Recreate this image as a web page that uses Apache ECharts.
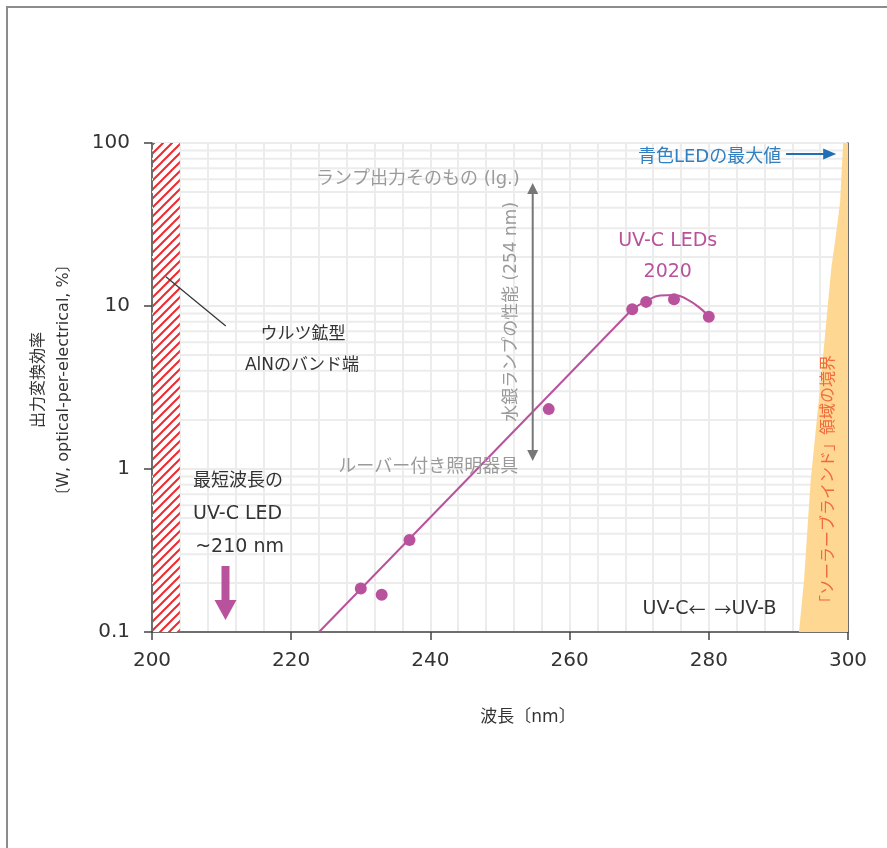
<!DOCTYPE html>
<html><head><meta charset="utf-8">
<script src="https://cdn.jsdelivr.net/npm/echarts@6/dist/echarts.min.js"></script>
<style>html,body{margin:0;padding:0;background:#fff}#c{width:887px;height:848px}</style>
</head><body><div id="c"></div>
<script>
// ---------- data ----------
const xTicks = [200, 220, 240, 260, 280, 300];
const yTicks = [0.1, 1, 10, 100];
const yMinorGrid = [0.2,0.3,0.4,0.5,0.6,0.7,0.8,0.9,2,3,4,5,6,7,8,9,20,30,40,50,60,70,80,90];
const ledWavelength = [230, 233, 237, 257, 269, 271, 275, 280];
const ledEfficiency = [0.185, 0.169, 0.367, 2.33, 9.55, 10.6, 11.0, 8.6];
const fitLineX = [224, 269];
const fitLineY = [0.1, 9.55];
const fitCurveX = [269, 271, 273, 275, 277, 279, 280];
const fitCurveY = [9.55, 10.7, 11.6, 11.7, 10.9, 9.5, 8.6];
const solarBlindX = [292.96, 293.68, 294.64, 296.1, 296.7, 297.6, 298.3, 298.87, 299.3, 300, 300];
const solarBlindY = [0.1, 0.208, 0.856, 3.52, 6.64, 17.1, 28, 43.6, 100, 100, 0.1];
const alnEdgeRange = [200, 204];

// annotation anchors (data coordinates: nm, %)
const lampLabelAt = [238.2, 60];
const lampArrow = { x: 254.7, top: 56.8, bottom: 1.12 };
const mercuryLabelAt = [251.6, 9.2];
const louverLabelAt = [239.7, 1.03];
const wurtziteAt = [221.7, 6.64];
const alnAt = [221.55, 4.29];
const leaderFrom = [202.0, 15.1];
const leaderTo = [210.6, 7.54];
const shortestAt = [[205.9, 0.844], [205.9, 0.53], [206.2, 0.332]];
const shortestArrow = { x: 210.56, top: 0.254, head: 0.157, tip: 0.1186 };
const uvcLedsAt = [[274.1, 25.0], [274.1, 16.2]];
const blueLabelRight = [290.4, 82];
const blueArrow = { from: 291.1, to: 298.3, y: 85.6 };
const uvBoundaryAt = [280.1, 0.138];
const solarLabelAt = [297.3, 0.82];

// ---------- chart ----------
const FONT = "'DejaVu Sans', 'Noto Sans CJK JP', sans-serif";
const CJK = "'Noto Sans CJK JP', sans-serif";
const MAGENTA = '#b9529c';
const GRID = '#ececec';
const AXIS = '#444';

function hatchPattern() {
  const s = 9, c = document.createElement('canvas');
  c.width = s; c.height = s;
  const g = c.getContext('2d');
  g.fillStyle = '#fff'; g.fillRect(0, 0, s, s);
  g.strokeStyle = '#ec2a2f'; g.lineWidth = 2;
  g.beginPath();
  g.moveTo(-1, s + 1); g.lineTo(s + 1, -1);
  g.moveTo(-1, 1); g.lineTo(1, -1);
  g.moveTo(s - 1, s + 1); g.lineTo(s + 1, s - 1);
  g.stroke();
  return c;
}
const hatch = hatchPattern();

const chart = echarts.init(document.getElementById('c'), null, { renderer: 'canvas' });

chart.setOption({
  animation: false,
  backgroundColor: '#fff',
  grid: { left: 152, right: 39, top: 143, bottom: 216, containLabel: false, outerBoundsMode: 'none' },
  xAxis: {
    type: 'value', min: xTicks[0], max: xTicks[xTicks.length - 1], interval: 20,
    axisLine: { onZero: false, lineStyle: { color: AXIS, width: 1.5 } },
    axisTick: { show: true, length: 8, lineStyle: { color: AXIS, width: 1.5 } },
    axisLabel: { margin: 19, fontSize: 20, color: '#333', fontFamily: FONT },
    splitLine: { show: true, lineStyle: { color: GRID, width: 2 } },
    minorTick: { show: false, splitNumber: 5 },
    minorSplitLine: { show: true, lineStyle: { color: GRID, width: 2 } }
  },
  yAxis: [{
    type: 'log', logBase: 10, min: yTicks[0], max: yTicks[yTicks.length - 1],
    axisLine: { show: true, onZero: false, lineStyle: { color: AXIS, width: 1.5 } },
    axisTick: { show: true, length: 8, lineStyle: { color: AXIS, width: 1.5 } },
    axisLabel: { margin: 22, fontSize: 20, color: '#333', fontFamily: FONT,
      formatter: v => String(+v.toPrecision(3)) },
    splitLine: { show: true, lineStyle: { color: GRID, width: 2 } }
  }, {
    type: 'log', logBase: 10, min: yTicks[0], max: yTicks[yTicks.length - 1], position: 'right',
    axisLine: { show: true, onZero: false, lineStyle: { color: AXIS, width: 1.5 } },
    axisTick: { show: false }, axisLabel: { show: false }, splitLine: { show: false }
  }],
  series: [
    {
      // minor log gridlines
      type: 'custom', z: 1, silent: true,
      data: yMinorGrid.map(v => [xTicks[0], v]),
      renderItem: (params, api) => {
        const v = api.value(1);
        const a = api.coord([xTicks[0], v]), b = api.coord([xTicks[xTicks.length - 1], v]);
        return { type: 'line', shape: { x1: a[0], y1: a[1], x2: b[0], y2: b[1] },
          style: { stroke: GRID, lineWidth: 2 } };
      }
    },
    {
      type: 'custom', z: 2, silent: true,
      data: [[solarBlindX[0], solarBlindY[0]]],
      renderItem: (params, api) => ({
        type: 'polygon',
        shape: { points: solarBlindX.map((x, i) => api.coord([x, solarBlindY[i]])) },
        style: { fill: '#fed892' }
      })
    },
    {
      type: 'custom', z: 3, silent: true,
      data: [[alnEdgeRange[0], yTicks[0]]],
      renderItem: (params, api) => {
        const a = api.coord([alnEdgeRange[0], yTicks[yTicks.length - 1]]);
        const b = api.coord([alnEdgeRange[1], yTicks[0]]);
        return { type: 'rect', shape: { x: a[0] + 1, y: a[1], width: b[0] - a[0] - 1, height: b[1] - a[1] },
          style: { fill: { image: hatch, repeat: 'repeat' } } };
      }
    },
    {
      type: 'line', z: 4, silent: true, showSymbol: false, symbol: 'none',
      data: fitLineX.map((x, i) => [x, fitLineY[i]]),
      lineStyle: { color: MAGENTA, width: 2 }
    },
    {
      type: 'line', z: 4, silent: true, showSymbol: false, symbol: 'none', smooth: 0.5,
      data: fitCurveX.map((x, i) => [x, fitCurveY[i]]),
      lineStyle: { color: MAGENTA, width: 2 }
    },
    {
      type: 'scatter', z: 5, symbolSize: 12,
      data: ledWavelength.map((x, i) => [x, ledEfficiency[i]]),
      itemStyle: { color: MAGENTA, opacity: 1 }
    }
  ]
});

// ---------- annotations ----------
const P = (x, y) => chart.convertToPixel({ xAxisIndex: 0, yAxisIndex: 0 }, [x, y]);
function txt(pos, text, o) {
  return {
    type: 'text', x: pos[0], y: pos[1], rotation: o.rot || 0, z: 100, silent: true,
    style: { text, fill: o.color, fontSize: o.size, fontFamily: FONT,
      align: o.align || 'center', verticalAlign: 'middle', lineHeight: o.lh, rich: o.rich }
  };
}
function line(a, b, color, w) {
  return { type: 'line', z: 100, silent: true, shape: { x1: a[0], y1: a[1], x2: b[0], y2: b[1] },
    style: { stroke: color, lineWidth: w } };
}
function poly(pts, color) {
  return { type: 'polygon', z: 100, silent: true, shape: { points: pts }, style: { fill: color } };
}

const g = [];
// outer frame
g.push({ type: 'rect', z: 0, silent: true, shape: { x: 7, y: 7, width: 1000, height: 1000 },
  style: { fill: 'none', stroke: '#8c8c8c', lineWidth: 2 } });

// lamp
g.push(txt(P(...lampLabelAt), 'ランプ出力そのもの (lg.)', { color: '#9a9a9a', size: 18 }));
{
  const t = P(lampArrow.x, lampArrow.top), b = P(lampArrow.x, lampArrow.bottom);
  g.push(line([t[0], t[1] + 8], [b[0], b[1] - 8], '#777', 2));
  g.push(poly([[t[0], t[1]], [t[0] - 5.5, t[1] + 11], [t[0] + 5.5, t[1] + 11]], '#777'));
  g.push(poly([[b[0], b[1]], [b[0] - 5.5, b[1] - 11], [b[0] + 5.5, b[1] - 11]], '#777'));
}
g.push(txt(P(...mercuryLabelAt), '水銀ランプの性能 (254 nm)', { color: '#9a9a9a', size: 17, rot: Math.PI / 2 }));
g.push(txt(P(...louverLabelAt), 'ルーバー付き照明器具', { color: '#9a9a9a', size: 18 }));

// AlN
g.push(txt(P(...wurtziteAt), 'ウルツ鉱型', { color: '#333', size: 17 }));
g.push(txt(P(...alnAt), 'AlNのバンド端', { color: '#333', size: 17 }));
g.push(line(P(...leaderFrom), P(...leaderTo), '#333', 1.2));

// shortest LED
g.push(txt(P(...shortestAt[0]), '最短波長の', { color: '#333', size: 18, align: 'left' }));
g.push(txt(P(...shortestAt[1]), 'UV-C LED', { color: '#333', size: 19, align: 'left' }));
g.push(txt(P(...shortestAt[2]), '~210 nm', { color: '#333', size: 19, align: 'left' }));
{
  const t = P(shortestArrow.x, shortestArrow.top), h = P(shortestArrow.x, shortestArrow.head),
        p = P(shortestArrow.x, shortestArrow.tip);
  g.push(poly([[t[0] - 4, t[1]], [t[0] + 4, t[1]], [h[0] + 4, h[1]], [h[0] + 11, h[1]], [p[0], p[1]],
    [h[0] - 11, h[1]], [h[0] - 4, h[1]]], MAGENTA));
}

// UV-C LEDs 2020
g.push(txt(P(...uvcLedsAt[0]), 'UV-C LEDs', { color: MAGENTA, size: 19 }));
g.push(txt(P(...uvcLedsAt[1]), '2020', { color: MAGENTA, size: 19 }));

// blue LED
g.push(txt(P(...blueLabelRight), '青色LEDの最大値', { color: '#2f7fc1', size: 18, align: 'right' }));
{
  const a = P(blueArrow.from, blueArrow.y), b = P(blueArrow.to, blueArrow.y);
  g.push(line(a, [b[0] - 10, b[1]], '#1f6fb5', 2));
  g.push(poly([[b[0], b[1]], [b[0] - 13, b[1] - 5.5], [b[0] - 13, b[1] + 5.5]], '#1f6fb5'));
}

// UV-C / UV-B
g.push(txt(P(...uvBoundaryAt), '{a|UV-C}{b|←}{s|}{b|→}{a|UV-B}', { color: '#333', size: 19,
  rich: { a: { fontSize: 19, fontFamily: FONT, fill: '#333' },
          b: { fontSize: 17, fontFamily: CJK, fill: '#333' },
          s: { width: 9, fontSize: 8 } } }));

// solar blind
g.push(txt(P(...solarLabelAt), '「ソーラーブラインド」領域の境界', { color: '#f06a3c', size: 16, rot: Math.PI / 2 }));

// axis names
g.push(txt([51, 380], '出力変換効率\n〔W, optical-per-electrical, %〕', { color: '#333', size: 16, lh: 25, rot: Math.PI / 2 }));
g.push(txt([528, 718], '波長〔nm〕', { color: '#333', size: 17 }));

chart.setOption({ graphic: g });
</script>
</body></html>
